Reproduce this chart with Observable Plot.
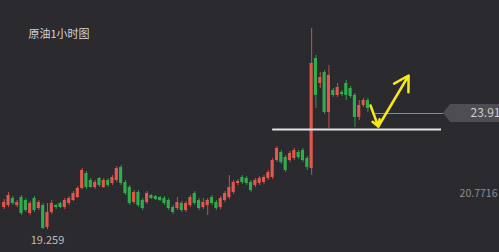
<!DOCTYPE html>
<html>
<head>
<meta charset="utf-8">
<script src="https://cdn.jsdelivr.net/npm/d3@7"></script>
<script src="https://cdn.jsdelivr.net/npm/@observablehq/plot@0.6"></script>
<style>
  html, body { margin: 0; padding: 0; background: #2a2a2f; }
  #chart { width: 499px; height: 252px; overflow: hidden; }
</style>
</head>
<body>
<div id="chart"></div>
<script>
// ---- data (1-hour crude oil candles) ----
const title = "原油1小时图";
const open  = [20.15,20.23,20.51,20.23,20.55,20.43,19.91,20.51,20.11,20.23,19.35,19.95,20.23,20.31,20.15,20.31,20.43,20.55,20.91,21.51,
               21.23,20.95,21.31,20.95,21.23,21.11,21.23,21.75,21.15,20.95,20.35,20.75,20.43,20.35,20.63,20.59,20.55,20.51,20.43,20.15,
               20.11,20.31,20.03,20.23,20.71,20.43,20.15,20.23,20.55,20.35,20.15,20.43,20.55,20.75,21.11,21.35,21.31,21.15,21.03,21.11,
               21.15,21.31,21.35,22.03,22.35,22.15,22.03,22.11,22.35,22.43,22.11,21.71,26.11,25.11,25.55,23.95,24.83,24.63,24.75,25.11,
               24.91,24.63,23.75,24.23,24.43];
const close = [20.35,20.63,20.31,20.35,19.91,20.03,20.31,20.03,20.35,19.31,19.95,20.31,20.15,20.15,20.43,20.51,20.71,20.91,21.63,20.95,
               20.95,21.15,21.03,21.23,21.03,21.35,21.71,21.11,20.71,20.31,20.75,20.23,20.11,20.71,20.51,20.47,20.43,20.31,20.11,19.95,
               20.35,20.03,20.31,20.55,20.31,20.11,20.35,20.43,20.31,20.11,20.51,20.71,20.95,21.15,21.19,21.15,21.11,20.83,21.23,21.31,
               21.35,21.55,22.03,22.51,21.95,21.63,22.31,22.43,22.15,22.03,21.75,25.91,24.63,25.35,23.95,25.43,24.63,24.95,24.67,24.63,
               24.59,23.75,24.23,24.43,24.11];
const high  = [20.47,20.75,20.59,20.43,20.63,20.51,20.39,20.59,20.43,20.31,20.31,20.43,20.27,20.35,20.51,20.59,20.79,20.99,21.71,21.59,
               21.31,21.23,21.35,21.31,21.31,21.43,21.79,21.83,21.23,21.03,20.83,20.83,20.51,20.79,20.67,20.63,20.59,20.59,20.51,20.23,
               20.55,20.39,20.39,20.63,20.79,20.51,20.51,20.51,20.63,20.43,20.59,20.79,21.43,21.23,21.27,21.43,21.39,21.23,21.31,21.39,
               21.43,21.63,22.11,22.59,22.43,22.23,22.39,22.51,22.43,22.51,22.19,27.31,26.23,25.55,25.63,25.83,24.91,25.11,24.83,25.23,
               24.99,24.71,24.43,24.51,24.51];
const low   = [20.07,20.15,20.23,20.15,19.83,19.95,19.83,19.95,20.03,19.27,19.259,19.87,20.07,20.11,20.07,20.23,20.39,20.51,20.87,20.87,
               20.91,20.87,20.95,20.91,20.95,21.03,21.15,21.03,20.63,20.23,20.27,20.15,20.03,20.27,20.47,20.43,20.39,20.23,20.03,19.87,
               20.03,19.95,19.95,20.15,20.23,20.03,20.07,19.83,20.23,20.03,20.07,20.35,20.47,20.67,21.03,21.07,21.03,20.75,20.95,21.03,
               21.07,21.23,21.27,21.95,21.87,21.55,21.95,22.03,22.07,21.95,21.63,21.43,24.11,24.91,23.87,23.31,24.55,24.55,24.59,24.43,
               24.51,23.35,23.63,24.15,23.95];

// annotation values
const lastPrice = [23.91];
const refPrice = [20.7716];
const lowLabel = ["19.259"];
const supportLevel = [23.27];
const supportSpan = [62, 101];
const lastLineSpan = [85.7, 101.5];
const tagSpan = [101.45, 103.1, 24.27, 23.55];   // tip index, shoulder index, top price, bottom price
const arrows = [
  {x1: 84.6, y1: 24.23, x2: 86.4, y2: 23.39},
  {x1: 86.4, y1: 23.39, x2: 93.4, y2: 25.43}
];

const RED = "#e2584f";
const GREEN = "#2fae4e";
const BG = "#2a2a2f";

const candles = open.map((o, i) => ({
  i, o, c: close[i], h: high[i], l: low[i], up: close[i] >= o
}));

const tagMark = (index, scales) => {
  const x = scales.x, y = scales.y;
  const xt = x(tagSpan[0]), xs = x(tagSpan[1]), xr = x(114.5);
  const ym = y(lastPrice[0]), yt = y(tagSpan[2]), yb = y(tagSpan[3]);
  const g = document.createElementNS("http://www.w3.org/2000/svg", "path");
  g.setAttribute("d", `M${xt},${ym} L${xs},${yt} L${xr},${yt} L${xr},${yb} L${xs},${yb} Z`);
  g.setAttribute("fill", "#4d4d52");
  return g;
};

const chart = Plot.plot({
  width: 499,
  height: 252,
  marginTop: 0, marginRight: 0, marginBottom: 0, marginLeft: 0,
  x: {type: "linear", domain: [-0.855, 114.39], axis: null},
  y: {type: "linear", domain: [18.35, 28.43], axis: null},
  color: {type: "identity"},
  style: {background: BG, fontFamily: "'Noto Sans CJK SC', 'Noto Sans', sans-serif", overflow: "hidden"},
  marks: [
    Plot.ruleX(candles, {x: "i", y1: "l", y2: "h", stroke: d => d.up ? RED : GREEN, strokeWidth: 1, strokeOpacity: 0.85}),
    Plot.rect(candles, {
      x1: d => d.i - 0.36, x2: d => d.i + 0.36,
      y1: d => Math.min(d.o, d.c),
      y2: d => Math.max(Math.max(d.o, d.c), Math.min(d.o, d.c) + 0.04),
      fill: d => d.up ? RED : GREEN
    }),
    Plot.ruleY(supportLevel, {x1: supportSpan[0], x2: supportSpan[1], stroke: "#e4e4e4", strokeWidth: 2}),
    Plot.ruleY(lastPrice, {x1: lastLineSpan[0], x2: lastLineSpan[1], stroke: "#8c8c8c", strokeWidth: 1}),
    tagMark,
    Plot.text(lastPrice, {x: 114.39, y: d => d, text: d => d.toFixed(2), textAnchor: "end", dx: 1, fill: "#cfcfcf", fontSize: 12}),
    Plot.arrow(arrows, {x1: "x1", y1: "y1", x2: "x2", y2: "y2", stroke: "#f7e81a", strokeWidth: 2.5, headLength: 10}),
    Plot.text(refPrice, {x: 114.39, y: d => d, text: d => String(d), textAnchor: "end", dx: -2, dy: 1.5, fill: "#8e8e8e", fontSize: 10.5}),
    Plot.text(lowLabel, {x: 10, y: d => +d, text: d => d, dy: 11, fill: "#bdbdbd", fontSize: 11}),
    Plot.text([title], {frameAnchor: "top-left", dx: 28, dy: 30, textAnchor: "start", fill: "#d6d6d6", fontSize: 11})
  ]
});
document.getElementById("chart").appendChild(chart);
</script>
</body>
</html>
